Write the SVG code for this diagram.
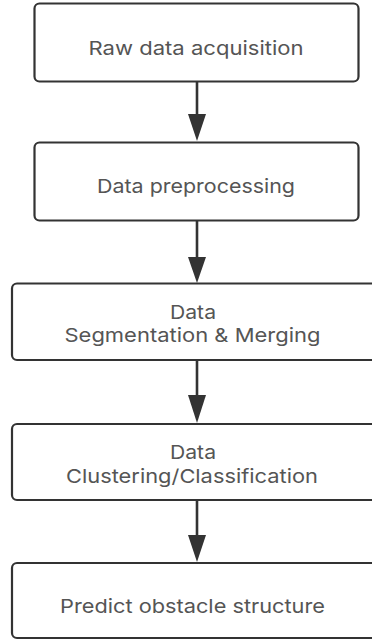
<svg xmlns="http://www.w3.org/2000/svg" width="372" height="643" viewBox="0 0 372 643">
  <style>
    .box { fill: #ffffff; stroke: #333333; stroke-width: 2.2; }
    .label { font-family: Inter, "Liberation Sans", sans-serif; font-size: 19px; fill: #555555; text-anchor: middle; }
    .edge { stroke: #333333; stroke-width: 2.6; fill: none; }
    .head { fill: #333333; stroke: none; }
  </style>
  <rect width="372" height="643" fill="#ffffff"/>

  <g id="connectors">
    <line class="edge" x1="197" y1="82" x2="197" y2="115"/>
    <polygon class="head" points="188,114 206,114 197,141"/>
    <line class="edge" x1="197" y1="221" x2="197" y2="258"/>
    <polygon class="head" points="188,257 206,257 197,283"/>
    <line class="edge" x1="197" y1="360" x2="197" y2="396"/>
    <polygon class="head" points="188,395 206,395 197,423"/>
    <line class="edge" x1="197" y1="500" x2="197" y2="536"/>
    <polygon class="head" points="188,535 206,535 197,562"/>
  </g>

  <g id="raw-data-acquisition">
    <rect class="box" x="34.5" y="3.5" width="324" height="78" rx="5"/>
    <text class="label" x="196" y="54.5" textLength="215" lengthAdjust="spacingAndGlyphs">Raw data acquisition</text>
  </g>

  <g id="data-preprocessing">
    <rect class="box" x="34.5" y="142.5" width="324" height="78" rx="5"/>
    <text class="label" x="196" y="192.5" textLength="198" lengthAdjust="spacingAndGlyphs">Data preprocessing</text>
  </g>

  <g id="segmentation-merging">
    <rect class="box" x="12" y="283.5" width="380" height="76.5" rx="5"/>
    <text class="label" x="193" y="318.5" textLength="46" lengthAdjust="spacingAndGlyphs">Data</text>
    <text class="label" x="192.5" y="341.5" textLength="256" lengthAdjust="spacingAndGlyphs">Segmentation &amp; Merging</text>
  </g>

  <g id="clustering-classification">
    <rect class="box" x="12" y="424" width="380" height="76" rx="5"/>
    <text class="label" x="193" y="459" textLength="46" lengthAdjust="spacingAndGlyphs">Data</text>
    <text class="label" x="192" y="482.5" textLength="252" lengthAdjust="spacingAndGlyphs">Clustering/Classification</text>
  </g>

  <g id="predict-obstacle-structure">
    <rect class="box" x="12" y="563" width="380" height="75" rx="5"/>
    <text class="label" x="192.5" y="612.5" textLength="265" lengthAdjust="spacingAndGlyphs">Predict obstacle structure</text>
  </g>
</svg>
